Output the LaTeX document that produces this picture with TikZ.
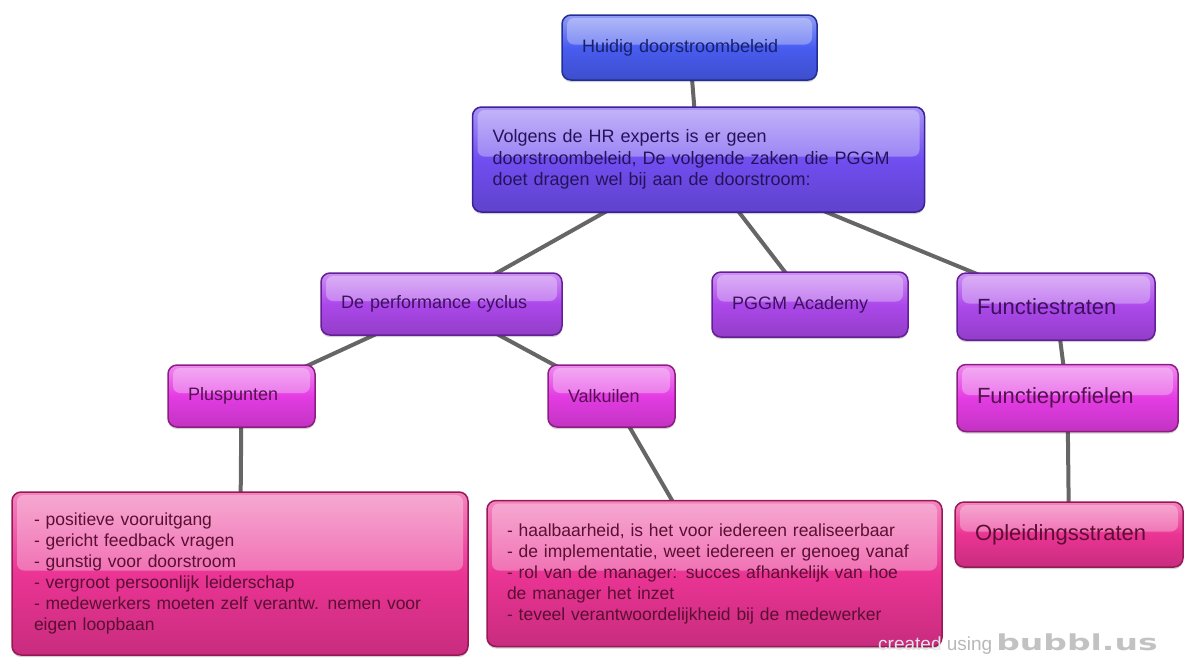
\documentclass[tikz,border=0pt]{standalone}
\usepackage{fontspec}
\setmainfont{Liberation Sans}
\newfontfamily\bubblfont[FakeStretch=1.5]{DejaVu Sans}
\usetikzlibrary{shadows,backgrounds}

\definecolor{colroot}{RGB}{72,92,240}
\definecolor{colrootdk}{RGB}{35,45,150}
\definecolor{colmain}{RGB}{112,78,240}
\definecolor{colmaindk}{RGB}{62,32,150}
\definecolor{coltwo}{RGB}{172,72,235}
\definecolor{coltwodk}{RGB}{100,30,150}
\definecolor{colthree}{RGB}{228,60,228}
\definecolor{colthreedk}{RGB}{140,30,130}
\definecolor{colfour}{RGB}{235,52,148}
\definecolor{colfourdk}{RGB}{150,25,85}

\begin{document}
\begin{tikzpicture}[x=1pt,y=-1pt]
        \tikzstyle{bubble}=[rounded corners=9pt,line width=1.5pt,inner xsep=20pt,inner ysep=0pt,align=left,
          font=\fontsize{18}{21.5}\selectfont,
          general shadow={shadow yshift=-2pt,fill=black,opacity=0.18},
          path picture={\fill[white,opacity=0.3,rounded corners=7pt] ([xshift=5pt,yshift=-3pt]path picture bounding box.north west) rectangle ([xshift=-5pt,yshift=3pt]path picture bounding box.east);}]
        \tikzstyle{big}=[font=\fontsize{22}{26}\selectfont]
        \tikzstyle{listing}=[font=\fontsize{17.5}{21}\selectfont]
        \tikzstyle{lvlroot}=[bubble,draw=colrootdk,top color=colroot!60!white,bottom color=colroot!85!black,middle color=colroot,text=colrootdk!70!black]
        \tikzstyle{lvlmain}=[bubble,draw=colmaindk,top color=colmain!60!white,bottom color=colmain!85!black,middle color=colmain,text=colmaindk!60!black]
        \tikzstyle{lvltwo}=[bubble,draw=coltwodk,top color=coltwo!60!white,bottom color=coltwo!85!black,middle color=coltwo,text=coltwodk!60!black]
        \tikzstyle{lvlthree}=[bubble,draw=colthreedk,top color=colthree!60!white,bottom color=colthree!85!black,middle color=colthree,text=colthreedk!60!black]
        \tikzstyle{lvlfour}=[bubble,draw=colfourdk,top color=colfour!60!white,bottom color=colfour!85!black,middle color=colfour,text=colfourdk!60!black]
        \tikzstyle{link}=[draw=black!60,line width=4pt]

        \useasboundingbox (0,0) rectangle (1185,657);

        \node [lvlroot,text width=215pt,minimum height=65pt] (huidig) at (689.5,47.5) {Huidig doorstroombeleid};
        \node [lvlmain,text width=412pt,minimum height=105pt] (volgens) at (698.5,159.5) {Volgens de HR experts is er geen\\doorstroombeleid, De volgende zaken die PGGM\\doet dragen wel bij aan de doorstroom:};

        \node [lvltwo,text width=201pt,minimum height=62pt] (perf) at (441.5,304) {De performance cyclus};
        \node [lvltwo,text width=156pt,minimum height=65pt] (academy) at (810,304.5) {PGGM Academy};
        \node [lvltwo,big,text width=158pt,minimum height=67pt] (fstraten) at (1056,306.5) {Functiestraten};

        \node [lvlthree,text width=107pt,minimum height=62pt] (plus) at (241.5,396) {Pluspunten};
        \node [lvlthree,text width=87pt,minimum height=62pt] (valk) at (611.5,396) {Valkuilen};
        \node [lvlthree,big,text width=181pt,minimum height=67pt] (fprofiel) at (1067.5,398) {Functieprofielen};

        \node [lvlfour,listing,inner xsep=22pt,text width=412pt,minimum height=163pt] (pluslist) at (240,573.5) {- positieve vooruitgang\\- gericht feedback vragen\\- gunstig voor doorstroom\\- vergroot persoonlijk leiderschap\\- medewerkers moeten zelf verantw. nemen voor\\eigen loopbaan};
        \node [lvlfour,listing,text width=415pt,minimum height=146pt] (valklist) at (714.5,573.5) {- haalbaarheid, is het voor iedereen realiseerbaar\\- de implementatie, weet iedereen er genoeg vanaf\\- rol van de manager: succes afhankelijk van hoe\\de manager het inzet\\- teveel verantwoordelijkheid bij de medewerker};
        \node [lvlfour,big,text width=188pt,minimum height=65pt] (opleiding) at (1069,534.5) {Opleidingsstraten};

        \node [anchor=base west,inner sep=0pt,font=\fontsize{19}{19}\selectfont] (watermark) at (878,650) {\textcolor{black!10}{created} \textcolor{black!28}{using}\hspace{4pt}{\bubblfont\bfseries\fontsize{22}{22}\selectfont\textcolor{black!24}{bubbl.us}}};

        \begin{pgfonlayer}{background}
        \path[link] (huidig.center) edge (volgens.center);
        \path[link] (volgens.center) edge (perf.center);
        \path[link] (volgens.center) edge (academy.center);
        \path[link] (volgens.center) edge (fstraten.center);
        \path[link] (perf.center) edge (plus.center);
        \path[link] (perf.center) edge (valk.center);
        \path[link] (plus.center) edge (pluslist.center);
        \path[link] (valk.center) edge (valklist.center);
        \path[link] (fstraten.center) edge (fprofiel.center);
        \path[link] (fprofiel.center) edge (opleiding.center);
        \end{pgfonlayer}
\end{tikzpicture}
\end{document}
